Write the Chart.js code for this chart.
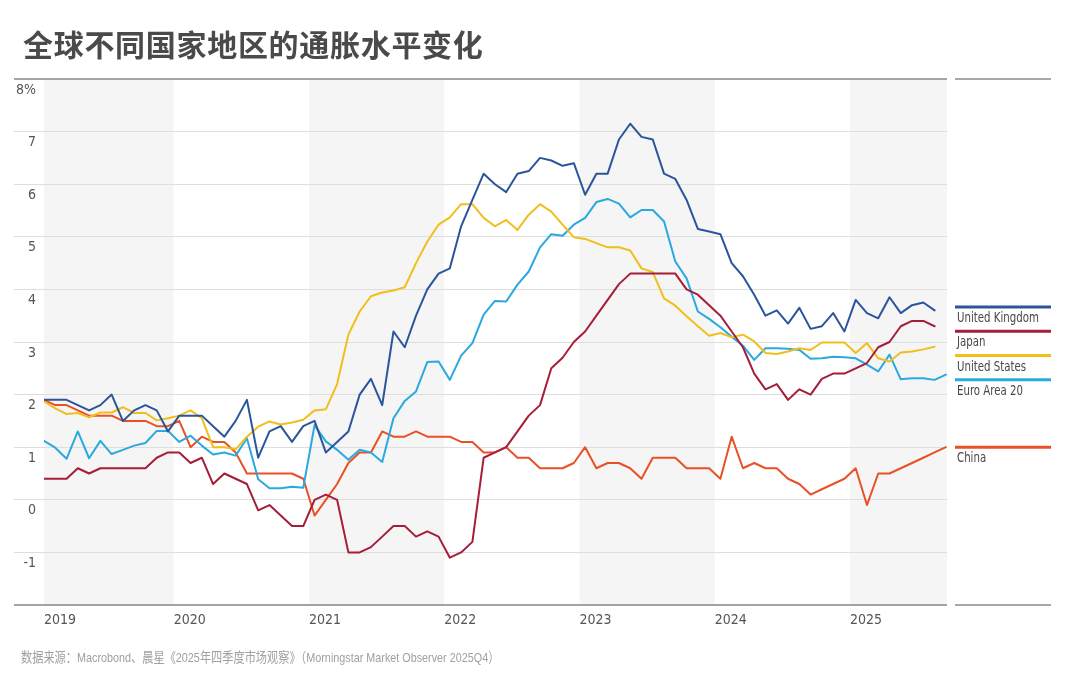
<!DOCTYPE html>
<html>
<head>
<meta charset="utf-8">
<script src="https://cdn.jsdelivr.net/npm/chart.js@4.4.1/dist/chart.umd.min.js"></script>
<style>
  html, body { margin: 0; padding: 0; background: #fff; }
  #wrap { position: relative; width: 1080px; height: 698px; overflow: hidden; }
  #graph { position: absolute; left: 0; top: 0; }
  #title { position: absolute; left: 23px; top: 28px; font: bold 30px/30px 'Noto Sans CJK SC', sans-serif; letter-spacing: 0.7px; color: #4a4a4a; white-space: nowrap; }
  #source { position: absolute; left: 21px; top: 647px; font: 14px/18px 'Noto Sans CJK SC', sans-serif; color: #a0a0a0; white-space: nowrap; transform: scaleX(0.8); transform-origin: 0 0; }
  #source .n { font: 13.5px 'Liberation Sans', sans-serif; }
</style>
</head>
<body>
<div id="wrap">
  <canvas id="graph" width="1080" height="698"></canvas>
  <div id="title">全球不同国家地区的通胀水平变化</div>
  <div id="source">数据来源：<span class="n">Macrobond</span>、晨星《<span class="n">2025</span>年四季度市场观察》（<span class="n">Morningstar Market Observer 2025Q4</span>）</div>
</div>
<script>
// monthly, starting Jan 2019
const years = ['2019', '2020', '2021', '2022', '2023', '2024', '2025'];
const names = ['United Kingdom', 'Japan', 'United States', 'Euro Area 20', 'China'];
const colors = ['#2a559c', '#a61d38', '#f1bf1c', '#29a9df', '#ea5026'];

const uk = [1.9,1.9,1.9,1.8,1.7,1.8,2.0,1.5,1.7,1.8,1.7,1.3,
  1.6,1.6,1.6,1.4,1.2,1.5,1.9,0.8,1.3,1.4,1.1,1.4,
  1.5,0.9,1.1,1.3,2.0,2.3,1.8,3.2,2.9,3.5,4.0,4.3,
  4.4,5.2,5.7,6.2,6.0,5.85,6.2,6.25,6.5,6.45,6.35,6.4,
  5.8,6.2,6.2,6.85,7.15,6.9,6.85,6.2,6.1,5.7,5.15,5.1,
  5.05,4.5,4.25,3.9,3.5,3.6,3.35,3.65,3.25,3.3,3.55,3.2,
  3.8,3.55,3.45,3.85,3.55,3.7,3.75,3.6];

const japan = [0.4,0.4,0.4,0.6,0.5,0.6,0.6,0.6,0.6,0.6,0.8,0.9,
  0.9,0.7,0.8,0.3,0.5,0.4,0.3,-0.2,-0.1,-0.3,-0.5,-0.5,
  0.0,0.1,0.0,-1.0,-1.0,-0.9,-0.7,-0.5,-0.5,-0.7,-0.6,-0.7,
  -1.1,-1.0,-0.8,0.8,0.9,1.0,1.3,1.6,1.8,2.5,2.7,3.0,
  3.2,3.5,3.8,4.1,4.3,4.3,4.3,4.3,4.3,4.0,3.9,3.7,
  3.5,3.2,2.9,2.4,2.1,2.2,1.9,2.1,2.0,2.3,2.4,2.4,
  2.5,2.6,2.9,3.0,3.3,3.4,3.4,3.3];

const us = [1.87,1.74,1.63,1.65,1.57,1.66,1.66,1.76,1.65,1.65,1.51,1.55,
  1.6,1.7,1.55,1.0,1.0,0.96,1.2,1.39,1.49,1.43,1.47,1.52,
  1.7,1.72,2.2,3.14,3.58,3.87,3.94,3.98,4.04,4.5,4.91,5.23,
  5.37,5.62,5.62,5.36,5.2,5.32,5.13,5.42,5.62,5.48,5.23,4.99,
  4.96,4.88,4.8,4.8,4.74,4.4,4.33,3.83,3.69,3.49,3.3,3.12,
  3.17,3.09,3.14,3.01,2.79,2.77,2.82,2.88,2.85,2.99,2.99,2.99,
  2.79,2.98,2.69,2.63,2.8,2.82,2.86,2.91];

const euro = [1.12,0.99,0.78,1.3,0.79,1.12,0.87,0.95,1.03,1.08,1.31,1.31,
  1.1,1.22,1.03,0.86,0.9,0.84,1.17,0.39,0.22,0.22,0.25,0.23,
  1.42,1.11,0.95,0.76,0.95,0.9,0.72,1.55,1.88,2.06,2.62,2.63,
  2.28,2.74,2.98,3.52,3.78,3.77,4.09,4.34,4.8,5.05,5.02,5.23,
  5.36,5.66,5.72,5.63,5.37,5.51,5.51,5.29,4.53,4.21,3.58,3.44,
  3.28,3.1,2.93,2.66,2.88,2.88,2.87,2.85,2.68,2.69,2.72,2.71,
  2.69,2.57,2.44,2.76,2.29,2.31,2.31,2.28,2.38];

const china = [1.9,1.8,1.8,1.7,1.6,1.6,1.6,1.5,1.5,1.5,1.4,1.4,
  1.5,1.0,1.2,1.1,1.1,0.9,0.5,0.5,0.5,0.5,0.5,0.4,
  -0.3,0.0,0.3,0.7,0.9,0.9,1.3,1.2,1.2,1.3,1.2,1.2,
  1.2,1.1,1.1,0.9,0.9,1.0,0.8,0.8,0.6,0.6,0.6,0.7,
  1.0,0.6,0.7,0.7,0.6,0.4,0.8,0.8,0.8,0.6,0.6,0.6,
  0.4,1.2,0.6,0.7,0.6,0.6,0.4,0.3,0.1,0.2,0.3,0.4,
  0.6,-0.1,0.5,0.5,0.6,0.7,0.8,0.9,1.0];

const yTicks = [-2, -1, 0, 1, 2, 3, 4, 5, 6, 7, 8];

const narrow = "'DejaVu Sans Condensed', 'DejaVu Sans', sans-serif";
Chart.defaults.font.family = narrow;

// x value = months since Jan 1 2019, each point sits mid-month
function toPoints(arr) {
  return arr.map((v, i) => ({ x: i + 0.5, y: v }));
}

const bands = {
  id: 'bands',
  beforeDraw(chart) {
    const { ctx, chartArea: a, scales: { x } } = chart;
    ctx.save();
    ctx.fillStyle = '#f5f5f5';
    for (let k = 0; k < years.length; k += 2) {
      const x1 = Math.max(x.getPixelForValue(k * 12), a.left);
      const x2 = Math.min(x.getPixelForValue(k * 12 + 12), a.right);
      ctx.fillRect(x1, a.top, x2 - x1, a.bottom - a.top);
    }
    ctx.restore();
  }
};

const sideLegend = {
  id: 'sideLegend',
  afterDraw(chart) {
    const { ctx, chartArea: a, scales: { y } } = chart;
    const left = a.right + 8, right = left + 96;
    ctx.save();
    ctx.strokeStyle = '#a8a8a8';
    ctx.lineWidth = 2;
    [a.top, a.bottom].forEach(py => {
      ctx.beginPath();
      ctx.moveTo(left, py);
      ctx.lineTo(right, py);
      ctx.stroke();
    });
    // first label sits a little above its line end, the rest are pushed down to keep a gap
    let prev = -Infinity;
    ctx.font = '14px ' + narrow;
    ctx.textAlign = 'left';
    ctx.textBaseline = 'middle';
    chart.data.datasets.forEach((ds, k) => {
      const last = ds.data[ds.data.length - 1].y;
      const lift = k === 0 ? 3.5 : 0;
      const py = Math.max(y.getPixelForValue(last) - lift, prev + 24.3);
      prev = py;
      ctx.strokeStyle = ds.borderColor;
      ctx.lineWidth = 3;
      ctx.beginPath();
      ctx.moveTo(left, py);
      ctx.lineTo(right, py);
      ctx.stroke();
      // squeeze the label to the condensed look of the original
      ctx.save();
      ctx.translate(left + 2, py + 11.5);
      ctx.scale(0.81, 1);
      ctx.fillStyle = '#474747';
      ctx.fillText(ds.label, 0, 0);
      ctx.restore();
    });
    ctx.restore();
  }
};

const series = [uk, japan, us, euro, china];

new Chart(document.getElementById('graph'), {
  type: 'line',
  data: {
    datasets: series.map((arr, k) => ({
      label: names[k],
      data: toPoints(arr),
      borderColor: colors[k],
      borderWidth: 2,
      pointRadius: 0,
      tension: 0,
      borderJoinStyle: 'round',
      borderCapStyle: 'round',
      fill: false
    }))
  },
  options: {
    responsive: false,
    devicePixelRatio: 1,
    animation: false,
    layout: { padding: { left: 0, top: 79, right: 133, bottom: 63 } },
    plugins: {
      legend: { display: false },
      tooltip: { enabled: false }
    },
    scales: {
      x: {
        type: 'linear',
        min: 0.5,
        max: 80.6,
        border: { display: false },
        grid: { display: false, drawTicks: false },
        afterBuildTicks(axis) {
          axis.ticks = years.map((t, k) => ({ value: k === 0 ? 0.5 : k * 12 }));
        },
        afterFit(scale) { scale.height = 30; },
        ticks: {
          autoSkip: false,
          maxRotation: 0,
          align: 'start',
          padding: 7,
          color: '#555',
          font: { size: 14 },
          callback: (v, i) => years[i]
        }
      },
      y: {
        min: -2,
        max: 8,
        border: { display: false },
        afterBuildTicks(axis) {
          axis.ticks = yTicks.map(v => ({ value: v }));
        },
        afterFit(scale) { scale.width = 44; },
        grid: {
          drawTicks: true,
          tickLength: 30,
          color: c => (c.tick && (c.tick.value === 8 || c.tick.value === -2)) ? '#a3a3a3' : '#dedede',
          lineWidth: c => (c.tick && (c.tick.value === 8 || c.tick.value === -2)) ? 2 : 1
        },
        ticks: {
          padding: -22,
          labelOffset: 11,
          color: '#555',
          font: { size: 14 },
          callback: v => v === 8 ? '8%' : (v === -2 ? '' : String(v))
        }
      }
    }
  },
  plugins: [bands, sideLegend]
});
</script>
</body>
</html>
